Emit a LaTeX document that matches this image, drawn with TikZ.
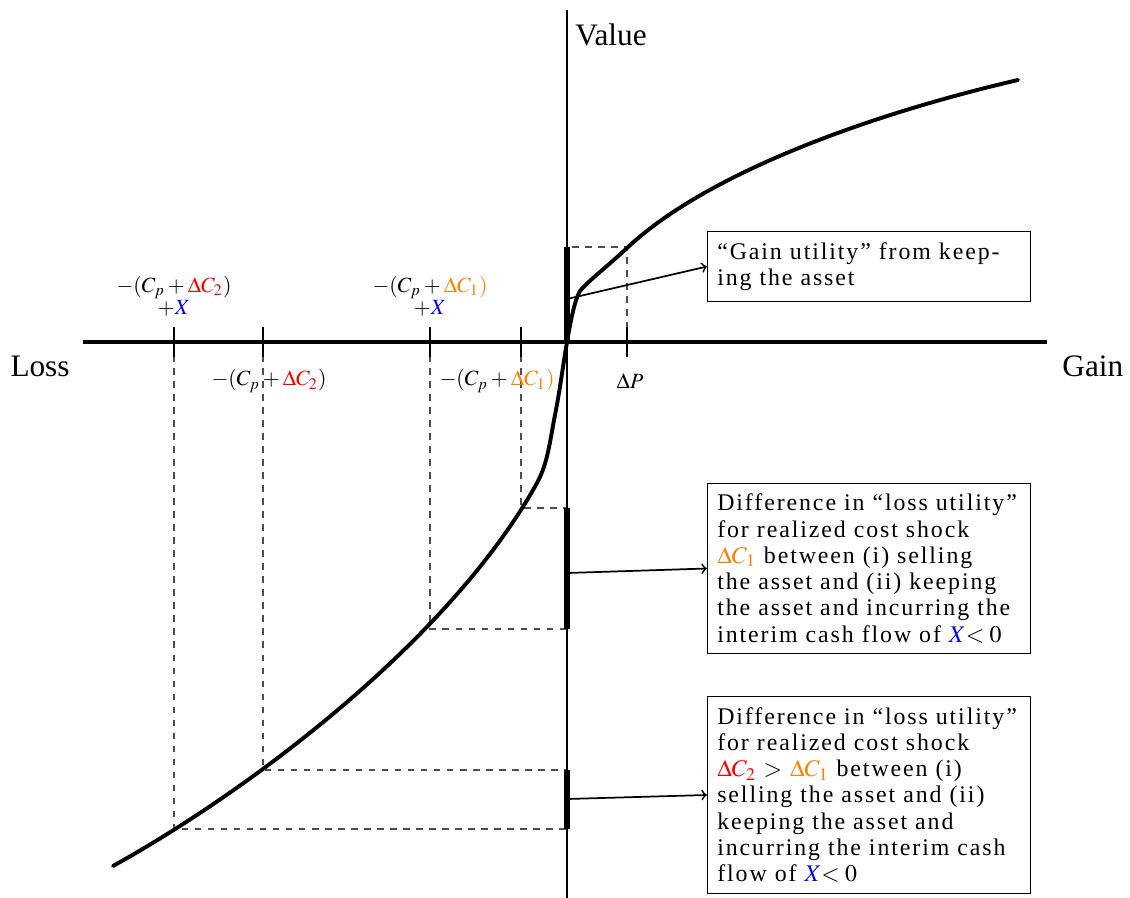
\documentclass[tikz,border=0pt]{standalone}
\usepackage{mathptmx}
\usepackage[no-math]{fontspec}
\setmainfont{Liberation Serif}
\newfontfamily\notefont[LetterSpace=8]{Liberation Serif}
\usetikzlibrary{calc}
\hyphenpenalty=10000
\exhyphenpenalty=10000
\begin{document}
\begin{tikzpicture}[x=0.4608pt,y=-0.4608pt,
  axisline/.style={line width=1.5pt},
  vaxisline/.style={line width=1.3pt},
  tickmark/.style={line width=0.8pt},
  guide/.style={dashed, line width=0.5pt, black!70},
  barline/.style={line width=3.2pt},
  pointer/.style={->, line width=0.8pt},
  note/.style={draw, line width=0.5pt, text width=139.8pt, inner xsep=4.5pt, inner ysep=5pt,
    align=left, anchor=west, font=\notefont\fontsize{11}{12.1}\selectfont},
  curveline/.style={line width=1.8pt, line cap=round},
  ticklabel/.style={inner sep=1pt, align=center}]
\useasboundingbox (0,0) rectangle (1130,898);
% key coordinates
\coordinate (o) at (567,342);
\coordinate (xl) at (83,342);
\coordinate (xr) at (1047,342);
\coordinate (yt) at (567,10);
\coordinate (yb) at (567,898);
\coordinate (t1) at (174,342);
\coordinate (t2) at (263,342);
\coordinate (t3) at (430,342);
\coordinate (t4) at (521,342);
\coordinate (tp) at (627,342);
\coordinate (g1) at (567,247);
\coordinate (b1a) at (567,508);
\coordinate (b1b) at (567,629);
\coordinate (b2a) at (567,770);
\coordinate (b2b) at (567,829);
\coordinate (m1) at (567,299);
\coordinate (m2) at (567,573);
\coordinate (m3) at (567,799);
% guides
\draw[guide] (t1) |- (b2b);
\draw[guide] (t2) |- (b2a);
\draw[guide] (t3) |- (b1b);
\draw[guide] (t4) |- (b1a);
\draw[guide] (tp) |- (g1);
% axes
\draw[axisline] (xl) -- (xr);
\draw[vaxisline] (yt) -- (yb);
% ticks
\foreach \t in {t1,t2,t3,t4,tp}{\draw[tickmark] ($(\t)+(0,-15)$) -- ($(\t)+(0,15)$);}
% bars
\draw[barline] (g1) -- (o);
\draw[barline] (b1a) -- (b1b);
\draw[barline] (b2a) -- (b2b);
% value curve
\draw[curveline] (113,866) .. controls (250,790) and (450,640) .. (537,483)
  .. controls (548,463) and (550,440) .. (555,415)
  .. controls (560,390) and (563,365) .. (567,342)
  .. controls (571,319) and (575,299) .. (580,291)
  .. controls (587,282) and (609,265) .. (627,248)
  .. controls (710,170) and (880,112) .. (1018,80);
% labels
\node[anchor=west, font=\Large, inner sep=0pt] (value) at (575,35) {Value};
\node[anchor=east, font=\Large, inner sep=0pt] (loss) at (70,366) {Loss};
\node[anchor=west, font=\Large, inner sep=0pt] (gain) at (1062,366) {Gain};
\node[ticklabel] (l1) at (174,296) {$-(C_p+{\color{red}\Delta C_2})$\\[-2pt]$+{\color{blue}X}$};
\node[ticklabel] (l3) at (430,296) {$-(C_p+{\color{orange}\Delta C_1)}$\\[-2pt]$+{\color{blue}X}$};
\node[ticklabel] (l2) at (269,381) {$-(C_p+{\color{red}\Delta C_2})$};
\node[ticklabel] (l4) at (497,381) {$-(C_p+{\color{orange}\Delta C_1)}$};
\node[ticklabel] (lp) at (630,381) {$\Delta P$};
% notes
\node[note] (n1) at (707,266.5) {“Gain utility” from keep-\\ing the asset};
\node[note] (n2) at (707,568.5) {Difference in “loss utility” for realized cost shock\\{\color{orange}$\Delta C_1$} between (i) selling the asset and (ii) keeping the asset and incurring the interim cash flow of ${\color{blue}X}{<}\;0$};
\node[note] (n3) at (707,795) {Difference in “loss utility” for realized cost shock ${\color{red}\Delta C_2}>{\color{orange}\Delta C_1}$ between (i) selling the asset and (ii) keeping the asset and incurring the interim cash flow of ${\color{blue}X}{<}\;0$};
% pointers
\draw[pointer] (m1) -- (n1.west);
\draw[pointer] (m2) -- (n2.west);
\draw[pointer] (m3) -- (n3.west);
\end{tikzpicture}
\end{document}
